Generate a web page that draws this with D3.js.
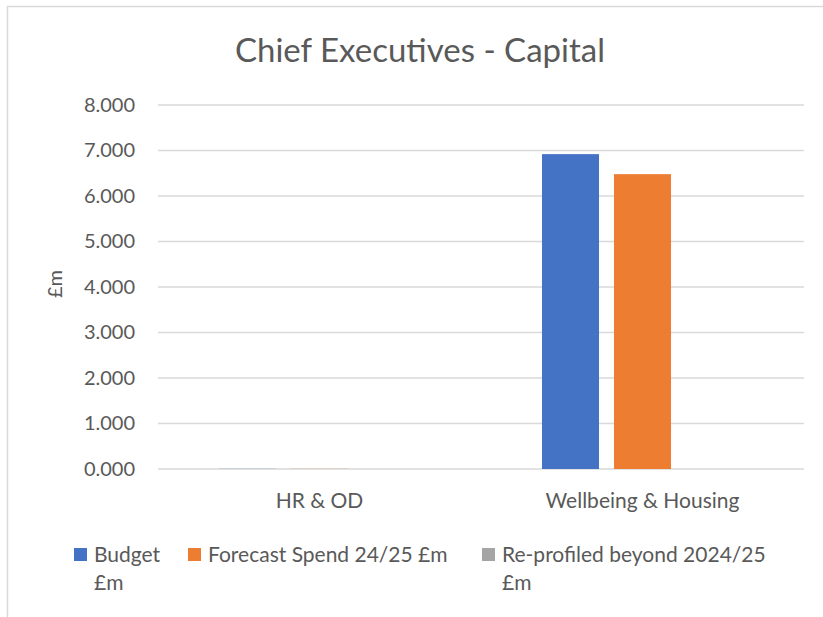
<!DOCTYPE html>
<html>
<head>
    <meta charset="utf-8">
    <title>Chief Executives - Capital</title>
    <script src="https://cdn.jsdelivr.net/npm/d3@7"></script>
    <style>
        body { margin: 0; background: #fff; }
        text {
            font-family: Lato, "Open Sans", sans-serif;
            fill: #595959;
        }
    </style>
</head>
<body>

<script>
    // values (£m)
    var categories = ['HR & OD', 'Wellbeing & Housing'];
    var seriesNames = ['Budget £m', 'Forecast Spend 24/25 £m', 'Re-profiled beyond 2024/25 £m'];
    var budget = [0.01, 6.92];
    var forecast = [0.01, 6.48];
    var reprofiled = [0, 0];
    var yTicks = [0, 1, 2, 3, 4, 5, 6, 7, 8];

    var colors = ['#4472C4', '#ED7D31', '#A5A5A5'];
    var values = [budget, forecast, reprofiled];

    var width = 823, height = 617;
    var plot = { left: 158, right: 804, top: 105, bottom: 469 };

    var svg = d3.select('body').append('svg')
        .attr('width', width)
        .attr('height', height);

    // chart border
    svg.append('rect')
        .attr('x', 7.5)
        .attr('y', 6.5)
        .attr('width', width)
        .attr('height', height)
        .style('fill', 'none')
        .style('stroke', '#d9d9d9')
        .style('stroke-width', 1.5);

    svg.append('text')
        .attr('x', 420)
        .attr('y', 62)
        .style('font-size', '33px')
        .style('text-anchor', 'middle')
        .text('Chief Executives - Capital');

    var x0 = d3.scaleBand()
        .domain(categories)
        .range([plot.left, plot.right]);

    var x1 = d3.scaleBand()
        .domain(d3.range(seriesNames.length))
        .range([0, x0.bandwidth()])
        .paddingInner(0.208)
        .paddingOuter(0.847);

    var y = d3.scaleLinear()
        .domain([0, 8])
        .range([plot.bottom, plot.top]);

    // gridlines
    svg.append('g')
        .selectAll('line')
        .data(yTicks).enter()
        .append('line')
        .attr('x1', plot.left)
        .attr('x2', plot.right)
        .attr('y1', function(d) { return y(d); })
        .attr('y2', function(d) { return y(d); })
        .style('stroke', '#d9d9d9')
        .style('stroke-width', 1.3);

    var yax = d3.axisLeft(y)
        .tickValues(yTicks)
        .tickFormat(d3.format('.3f'))
        .tickSize(0)
        .tickPadding(23);

    var gy = svg.append('g')
        .attr('transform', 'translate(' + plot.left + ',0)')
        .call(yax);
    gy.select('.domain').remove();
    gy.selectAll('text')
        .style('font-size', '20px')
        .style('fill', '#595959')
        .style('font-family', 'Lato, "Open Sans", sans-serif');

    svg.append('text')
        .attr('transform', 'translate(62,284) rotate(-90)')
        .style('font-size', '20px')
        .style('text-anchor', 'middle')
        .text('£m');

    // bars
    var groups = svg.append('g')
        .selectAll('g')
        .data(categories).enter()
        .append('g')
        .attr('transform', function(d) { return 'translate(' + x0(d) + ',0)'; });

    groups.selectAll('rect')
        .data(function(d, i) {
            return values.map(function(s, j) { return { s: j, v: s[i] }; });
        }).enter()
        .append('rect')
        .attr('x', function(d) { return x1(d.s); })
        .attr('width', x1.bandwidth())
        .attr('y', function(d) { return y(d.v); })
        .attr('height', function(d) { return y(0) - y(d.v); })
        .style('fill', function(d) { return colors[d.s]; })
        .style('opacity', function(d) { return d.v < 0.1 ? 0.35 : 1; });

    var xax = d3.axisBottom(x0)
        .tickSize(0)
        .tickPadding(24);

    var gx = svg.append('g')
        .attr('transform', 'translate(0,' + plot.bottom + ')')
        .call(xax);
    gx.select('.domain').remove();
    gx.selectAll('text')
        .style('font-size', '21px')
        .style('fill', '#595959')
        .style('font-family', 'Lato, "Open Sans", sans-serif');

    // legend
    var legendX = [74, 188, 482];
    var legendLines = [['Budget', '£m'], ['Forecast Spend 24/25 £m'], ['Re-profiled beyond 2024/25', '£m']];

    var legend = svg.append('g')
        .selectAll('g')
        .data(seriesNames).enter()
        .append('g')
        .attr('transform', function(d, i) { return 'translate(' + legendX[i] + ',548)'; });

    legend.append('rect')
        .attr('width', 13)
        .attr('height', 13)
        .style('fill', function(d, i) { return colors[i]; });

    legend.append('text')
        .attr('y', 14)
        .style('font-size', '21px')
        .selectAll('tspan')
        .data(function(d, i) { return legendLines[i]; }).enter()
        .append('tspan')
        .attr('x', 20)
        .attr('dy', function(d, i) { return i === 0 ? 0 : 28; })
        .text(function(d) { return d; });
</script>
</body>
</html>
